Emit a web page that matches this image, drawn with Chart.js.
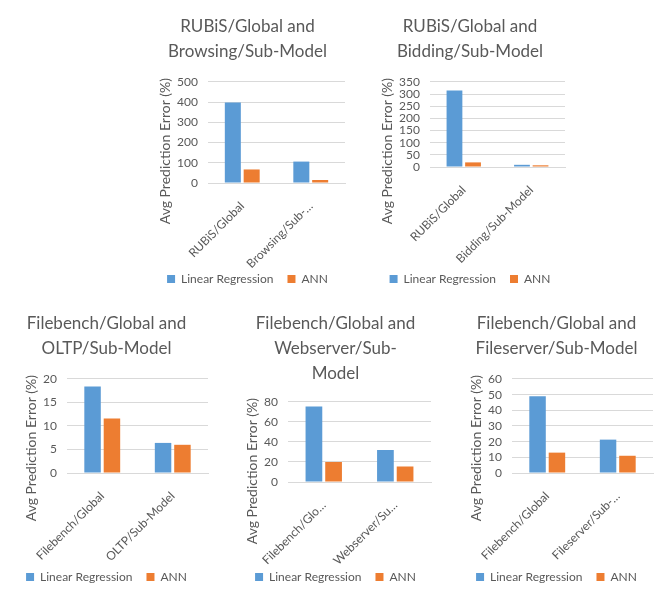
<!DOCTYPE html>
<html><head><meta charset="utf-8">
<script src="https://cdn.jsdelivr.net/npm/chart.js@4"></script>
<style>
html,body{margin:0;padding:0;background:#fff;}
body{width:672px;height:600px;position:relative;overflow:hidden;}
.c{position:absolute;}
</style></head><body>
<div class="c" style="left:150px;top:0px;width:197px;height:295px"><canvas id="c1"></canvas></div>
<div class="c" style="left:375px;top:0px;width:194px;height:295px"><canvas id="c2"></canvas></div>
<div class="c" style="left:5px;top:300px;width:216px;height:300px"><canvas id="c3"></canvas></div>
<div class="c" style="left:240px;top:300px;width:194px;height:300px"><canvas id="c4"></canvas></div>
<div class="c" style="left:460px;top:300px;width:196px;height:300px"><canvas id="c5"></canvas></div>
<script>
const seriesNames = ['Linear Regression', 'ANN'];
const yAxisTitle = 'Avg Prediction Error (%)';

const title1 = ['RUBiS/Global and', 'Browsing/Sub-Model'];
const categories1 = ['RUBiS/Global', 'Browsing/Sub-…'];
const linear1 = [398, 106];
const ann1 = [67, 15];
const yTicks1 = [0, 100, 200, 300, 400, 500];

const title2 = ['RUBiS/Global and', 'Bidding/Sub-Model'];
const categories2 = ['RUBiS/Global', 'Bidding/Sub-Model'];
const linear2 = [315, 9];
const ann2 = [19, 7];
const yTicks2 = [0, 50, 100, 150, 200, 250, 300, 350];

const title3 = ['Filebench/Global and', 'OLTP/Sub-Model'];
const categories3 = ['Filebench/Global', 'OLTP/Sub-Model'];
const linear3 = [18.4, 6.4];
const ann3 = [11.6, 6.0];
const yTicks3 = [0, 5, 10, 15, 20];

const title4 = ['Filebench/Global and', 'Webserver/Sub-', 'Model'];
const categories4 = ['Filebench/Glo…', 'Webserver/Su…'];
const linear4 = [75.5, 32];
const ann4 = [20, 15.5];
const yTicks4 = [0, 20, 40, 60, 80];

const title5 = ['Filebench/Global and', 'Fileserver/Sub-Model'];
const categories5 = ['Filebench/Global', 'Fileserver/Sub-…'];
const linear5 = [49, 21.3];
const ann5 = [13, 11];
const yTicks5 = [0, 10, 20, 30, 40, 50, 60];

const FONT = 'Lato, "Liberation Sans", sans-serif';
const GREY = '#595959';
const BLUE = '#5B9BD5';
const ORANGE = '#ED7D31';

// let rotated category labels extend past the scale box instead of being clipped
Chart.CategoryScale.prototype._computeLabelArea = function () { return null; };

const yTitlePlugin = {
  id: 'yTitle',
  afterDraw(chart, args, opts) {
    const ctx = chart.ctx;
    ctx.save();
    ctx.translate(opts.x, chart.chartArea.top + opts.dy);
    ctx.rotate(-Math.PI / 2);
    ctx.textAlign = 'right';
    ctx.textBaseline = 'middle';
    ctx.font = '14px ' + FONT;
    ctx.fillStyle = GREY;
    ctx.fillText(yAxisTitle, 0, 0);
    ctx.restore();
  }
};

function makeChart(id, title, cats, lin, ann, ticks, L) {
  const step = ticks[1] - ticks[0];
  new Chart(document.getElementById(id), {
    type: 'bar',
    plugins: [yTitlePlugin],
    data: {
      labels: cats,
      datasets: [
        {label: seriesNames[0], data: lin, backgroundColor: BLUE, categoryPercentage: 0.55, barPercentage: 0.85},
        {label: seriesNames[1], data: ann, backgroundColor: ORANGE, categoryPercentage: 0.55, barPercentage: 0.85}
      ]
    },
    options: {
      responsive: true, maintainAspectRatio: false, animation: false,
      layout: {padding: {left: 0, right: L.right, top: 0, bottom: L.bottom}},
      plugins: {
        yTitle: {x: L.tx, dy: -4},
        title: {display: true, text: title, color: GREY,
          font: {family: FONT, size: 17, weight: 'normal', lineHeight: 1.47},
          padding: {top: L.titleTop, bottom: L.titleBottom}},
        legend: {position: 'bottom',
          labels: {color: GREY, font: {family: FONT, size: 12}, boxWidth: 8, boxHeight: 8, padding: 14}},
        tooltip: {enabled: false}
      },
      scales: {
        x: {
          grid: {display: false},
          border: {color: '#D9D9D9'},
          ticks: {color: GREY, font: {family: FONT, size: 12}, minRotation: 45, maxRotation: 45, autoSkip: false, padding: 8},
          afterFit: s => { s.height = L.xh; }
        },
        y: {
          min: ticks[0], max: ticks[ticks.length - 1],
          grid: {color: '#D9D9D9', drawTicks: false},
          border: {display: false},
          ticks: {stepSize: step, autoSkip: false, color: GREY, font: {family: FONT, size: 12}, padding: 10},
          afterFit: s => { s.width = L.yw; }
        }
      }
    }
  });
}

makeChart('c1', title1, categories1, linear1, ann1, yTicks1, {right: 2, bottom: 0, titleTop: 14, titleBottom: 18, xh: 76, yw: 58, tx: 15});
makeChart('c2', title2, categories2, linear2, ann2, yTicks2, {right: 4, bottom: 0, titleTop: 14, titleBottom: 18, xh: 92, yw: 55, tx: 12});
makeChart('c3', title3, categories3, linear3, ann3, yTicks3, {right: 13, bottom: 7, titleTop: 11, titleBottom: 18, xh: 84, yw: 62, tx: 26});
makeChart('c4', title4, categories4, linear4, ann4, yTicks4, {right: 3, bottom: 7, titleTop: 11, titleBottom: 16, xh: 75, yw: 48, tx: 12});
makeChart('c5', title5, categories5, linear5, ann5, yTicks5, {right: 3, bottom: 7, titleTop: 11, titleBottom: 18, xh: 84, yw: 52, tx: 16});
</script>
</body></html>
